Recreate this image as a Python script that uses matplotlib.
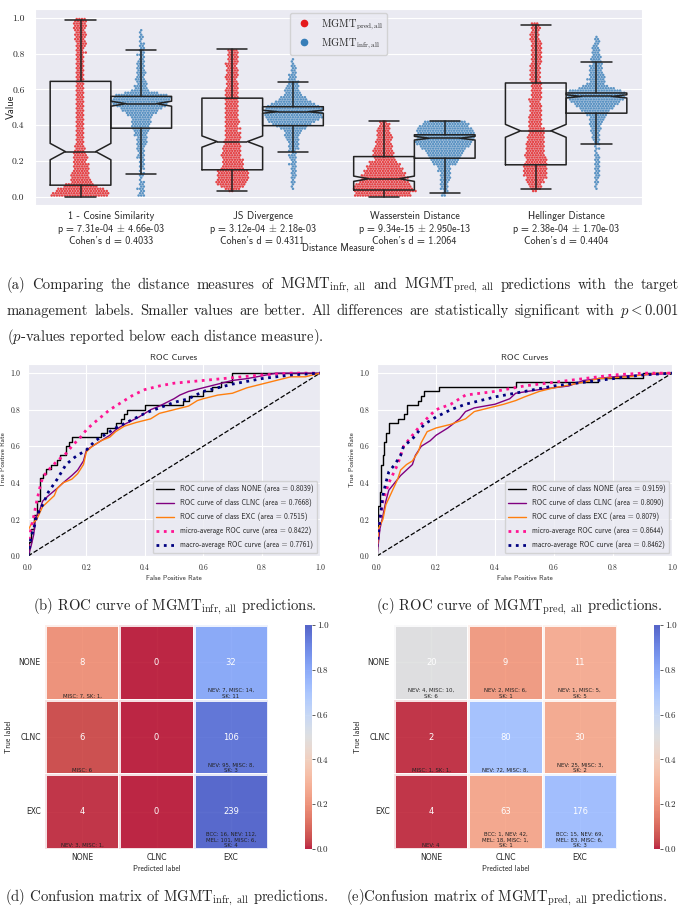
# Figure: distance measures (swarm + notched boxes), ROC curves and confusion matrices
import matplotlib
matplotlib.use("Agg")
import matplotlib.pyplot as plt
from matplotlib.lines import Line2D
import numpy as np
import pandas as pd
import seaborn as sns

W, H = 686, 910
SERIF = "cmr10"
SANS = "cmss10"

# ---------------- (a) distance measures ----------------
measures = ["1 - Cosine Similarity", "JS Divergence", "Wasserstein Distance", "Hellinger Distance"]
p_vals = ["7.31e-04", "3.12e-04", "9.34e-15", "2.38e-04"]
p_errs = ["4.66e-03", "2.18e-03", "2.950e-13", "1.70e-03"]
cohens_d = ["0.4033", "0.4311", "1.2064", "0.4404"]

# number of points per 0.0125-wide value bin (bin 0 = 0.0000-0.0125)
bin_width = 0.0125
pred_cos = [22, 22, 20, 18, 13, 11, 8, 8, 7, 7, 7, 6, 6, 6, 6, 5, 5, 6, 5, 5,
            4, 4, 4, 3, 3, 3, 3, 3, 3, 3, 3, 3, 3, 3, 3, 3, 3, 3, 3, 3,
            3, 3, 3, 3, 3, 3, 3, 3, 3, 3, 3, 3, 3, 3, 3, 3, 3, 3, 3, 3,
            3, 3, 3, 3, 4, 3, 3, 4, 4, 4, 4, 4, 5, 4, 4, 5, 5, 5, 5, 4]
infr_cos = [3, 2, 2, 3, 2, 2, 2, 1, 1, 2, 2, 1, 2, 2, 2, 2, 2, 3, 3, 2,
            3, 3, 3, 4, 4, 4, 4, 5, 5, 6, 7, 7, 7, 8, 7, 8, 10, 12, 14, 16,
            19, 21, 22, 22, 22, 20, 13, 7, 5, 5, 4, 4, 4, 3, 3, 4, 3, 3, 3, 3,
            3, 2, 2, 3, 2, 2, 2, 2, 2, 1, 1, 2, 1, 1, 1, 0, 0, 0, 0, 0]
pred_js = [0, 0, 2, 6, 9, 11, 12, 12, 12, 12, 12, 12, 9, 8, 8, 8, 8, 7, 8, 7,
           7, 7, 7, 6, 6, 6, 6, 6, 6, 5, 6, 5, 5, 6, 5, 5, 5, 5, 5, 5,
           5, 5, 5, 5, 5, 5, 5, 5, 5, 4, 5, 4, 4, 5, 5, 4, 5, 4, 4, 5,
           4, 4, 4, 4, 4, 4]
infr_js = [0, 0, 0, 1, 1, 1, 2, 1, 2, 2, 2, 2, 2, 2, 3, 2, 2, 3, 3, 2,
           3, 4, 4, 4, 4, 5, 5, 6, 6, 7, 10, 12, 15, 18, 20, 22, 22, 22, 22, 22,
           20, 17, 14, 11, 10, 7, 6, 6, 5, 5, 4, 4, 3, 3, 3, 2, 2, 2, 2, 1,
           1, 1]
pred_ws = [22, 21, 24, 23, 22, 21, 19, 17, 18, 17, 16, 15, 14, 13, 12, 11, 8, 8, 8, 8,
           8, 7, 7, 6, 6, 6, 6, 6, 5, 5, 5, 4, 4, 3]
infr_ws = [2, 1, 2, 3, 3, 3, 3, 4, 4, 4, 4, 5, 5, 5, 9, 10, 11, 12, 13, 14,
           15, 17, 19, 21, 22, 22, 22, 22, 22, 22, 21, 19, 18, 16]
pred_hel = [0, 0, 2, 4, 5, 5, 7, 7, 8, 9, 9, 9, 9, 9, 9, 8, 8, 8, 8, 7,
            7, 7, 7, 7, 7, 6, 7, 6, 6, 6, 6, 5, 5, 5, 5, 5, 5, 4, 5, 4,
            5, 4, 4, 5, 4, 4, 4, 4, 4, 4, 4, 4, 4, 4, 4, 4, 4, 4, 4, 4,
            4, 4, 4, 4, 4, 4, 4, 4, 4, 4, 4, 3, 4, 3, 3, 4, 3, 3]
infr_hel = [0, 0, 0, 1, 1, 1, 2, 1, 2, 2, 2, 2, 2, 2, 2, 2, 2, 2, 2, 1,
            1, 2, 1, 2, 2, 3, 3, 3, 3, 4, 4, 4, 5, 5, 6, 6, 8, 9, 11, 13,
            15, 17, 19, 21, 22, 22, 22, 20, 14, 10, 7, 6, 7, 6, 6, 5, 5, 5, 5, 4,
            4, 4, 4, 3, 3, 3, 3, 2, 2, 2, 2, 1]

# notched box statistics (pred = red, infr = blue)
pred_med = [0.252, 0.308, 0.100, 0.368]
pred_q1 = [0.064, 0.150, 0.037, 0.178]
pred_q3 = [0.645, 0.551, 0.224, 0.636]
pred_lo = [0.000, 0.032, 0.000, 0.040]
pred_hi = [0.990, 0.826, 0.424, 0.963]
infr_med = [0.520, 0.475, 0.327, 0.561]
infr_q1 = [0.383, 0.397, 0.215, 0.467]
infr_q3 = [0.561, 0.503, 0.346, 0.580]
infr_lo = [0.125, 0.250, 0.019, 0.295]
infr_hi = [0.822, 0.641, 0.424, 0.751]
n_samples = 395

# ---------------- (b), (c) ROC curves ----------------
classes = ["NONE", "CLNC", "EXC"]

infr_none_fpr = [0, 0.005, 0.01, 0.02, 0.03, 0.04, 0.05, 0.06, 0.08, 0.1, 0.11, 0.13, 0.14, 0.15,
                 0.25, 0.27, 0.3, 0.32, 0.33, 0.34, 0.4, 0.53, 0.55, 0.6, 0.63, 0.66, 0.7, 1.0]
infr_none_tpr = [0, 0.075, 0.15, 0.225, 0.3, 0.425, 0.45, 0.475, 0.5, 0.525, 0.55, 0.6, 0.625, 0.65,
                 0.675, 0.7, 0.725, 0.75, 0.775, 0.8, 0.825, 0.85, 0.875, 0.9, 0.925, 0.95, 1.0, 1.0]
infr_clnc_fpr = [0, 0.01, 0.02, 0.025, 0.03, 0.04, 0.05, 0.07, 0.1, 0.12, 0.15, 0.17, 0.19, 0.2, 0.22, 0.25,
                 0.28, 0.3, 0.33, 0.38, 0.42, 0.45, 0.5, 0.52, 0.55, 0.6, 0.65, 0.7, 0.75, 0.8, 0.85, 1.0]
infr_clnc_tpr = [0, 0.05, 0.12, 0.2, 0.22, 0.25, 0.3, 0.33, 0.37, 0.4, 0.44, 0.47, 0.52, 0.58, 0.6, 0.63,
                 0.66, 0.69, 0.72, 0.76, 0.8, 0.82, 0.86, 0.88, 0.9, 0.92, 0.94, 0.96, 0.97, 0.985, 1.0, 1.0]
infr_exc_fpr = [0, 0, 0.01, 0.03, 0.05, 0.07, 0.09, 0.1, 0.12, 0.15, 0.17, 0.19, 0.2, 0.22, 0.25, 0.28, 0.3,
                0.33, 0.37, 0.42, 0.45, 0.5, 0.55, 0.58, 0.6, 0.65, 0.7, 0.75, 0.8, 0.85, 0.9, 0.95, 1.0]
infr_exc_tpr = [0, 0.14, 0.17, 0.2, 0.27, 0.3, 0.33, 0.37, 0.4, 0.42, 0.45, 0.5, 0.57, 0.6, 0.63, 0.65, 0.68,
                0.71, 0.73, 0.75, 0.78, 0.8, 0.82, 0.85, 0.86, 0.88, 0.89, 0.92, 0.94, 0.96, 0.98, 0.98, 1.0]
infr_micro_fpr = [0, 0.01, 0.02, 0.03, 0.04, 0.05, 0.07, 0.1, 0.13, 0.15, 0.18, 0.2, 0.22, 0.25, 0.28,
                  0.32, 0.36, 0.4, 0.45, 0.5, 0.6, 0.7, 0.8, 0.9, 1.0]
infr_micro_tpr = [0.05, 0.15, 0.22, 0.3, 0.37, 0.43, 0.47, 0.52, 0.56, 0.6, 0.65, 0.69, 0.72, 0.76, 0.8,
                  0.84, 0.88, 0.91, 0.93, 0.945, 0.96, 0.975, 0.99, 1.0, 1.0]
infr_macro_fpr = [0, 0.01, 0.02, 0.03, 0.05, 0.07, 0.1, 0.13, 0.16, 0.2, 0.23, 0.27, 0.3, 0.35, 0.4,
                  0.45, 0.5, 0.55, 0.6, 0.7, 0.8, 0.9, 1.0]
infr_macro_tpr = [0, 0.1, 0.15, 0.22, 0.28, 0.35, 0.42, 0.5, 0.54, 0.58, 0.63, 0.67, 0.7, 0.74, 0.78,
                  0.81, 0.84, 0.86, 0.9, 0.94, 0.97, 0.99, 1.0]
infr_auc = [0.8039, 0.7668, 0.7515, 0.8422, 0.7761]

pred_none_fpr = [0, 0, 0.005, 0.01, 0.012, 0.02, 0.025, 0.03, 0.04, 0.07, 0.09, 0.1, 0.14, 0.15, 0.16,
                 0.21, 0.47, 0.75, 0.9, 1.0]
pred_none_tpr = [0, 0.15, 0.275, 0.35, 0.5, 0.55, 0.625, 0.675, 0.725, 0.75, 0.775, 0.825, 0.85, 0.875, 0.9,
                 0.925, 0.95, 0.975, 1.0, 1.0]
pred_clnc_fpr = [0, 0.01, 0.02, 0.03, 0.04, 0.06, 0.08, 0.1, 0.12, 0.13, 0.15, 0.18, 0.2, 0.24, 0.28, 0.3,
                 0.33, 0.4, 0.45, 0.47, 0.55, 0.65, 0.7, 0.8, 0.9, 1.0]
pred_clnc_tpr = [0, 0.15, 0.22, 0.3, 0.36, 0.4, 0.44, 0.47, 0.5, 0.55, 0.6, 0.63, 0.66, 0.7, 0.75, 0.79,
                 0.81, 0.83, 0.86, 0.89, 0.91, 0.93, 0.96, 0.98, 0.99, 1.0]
pred_exc_fpr = [0, 0.005, 0.02, 0.03, 0.05, 0.07, 0.08, 0.1, 0.12, 0.14, 0.15, 0.17, 0.2, 0.25, 0.3, 0.33,
                0.38, 0.43, 0.47, 0.5, 0.55, 0.6, 0.7, 0.75, 0.85, 0.95, 1.0]
pred_exc_tpr = [0, 0.15, 0.2, 0.28, 0.35, 0.42, 0.47, 0.5, 0.52, 0.57, 0.62, 0.68, 0.7, 0.72, 0.75, 0.79,
                0.81, 0.83, 0.85, 0.87, 0.9, 0.92, 0.95, 0.97, 0.98, 1.0, 1.0]
pred_micro_fpr = [0, 0.01, 0.02, 0.04, 0.07, 0.09, 0.12, 0.15, 0.18, 0.2, 0.25, 0.3, 0.4, 0.5, 0.6, 0.7,
                  0.8, 0.9, 1.0]
pred_micro_tpr = [0.05, 0.2, 0.3, 0.4, 0.5, 0.6, 0.66, 0.72, 0.77, 0.8, 0.83, 0.88, 0.9, 0.93, 0.95, 0.97,
                  0.99, 1.0, 1.0]
pred_macro_fpr = [0, 0.01, 0.02, 0.03, 0.04, 0.06, 0.08, 0.09, 0.12, 0.16, 0.2, 0.25, 0.3, 0.35, 0.4, 0.5,
                  0.6, 0.7, 0.8, 0.9, 1.0]
pred_macro_tpr = [0.05, 0.2, 0.33, 0.4, 0.46, 0.5, 0.55, 0.6, 0.64, 0.72, 0.76, 0.8, 0.83, 0.85, 0.87, 0.9,
                  0.93, 0.95, 0.97, 0.99, 1.0]
pred_auc = [0.9159, 0.8090, 0.8079, 0.8644, 0.8462]

# ---------------- (d), (e) confusion matrices ----------------
cm_infr = [[8, 0, 32], [6, 0, 106], [4, 0, 239]]
cm_pred = [[20, 9, 11], [2, 80, 30], [4, 63, 176]]
notes_infr = [["MISC: 7, SK: 1,", "", "NEV: 7, MISC: 14,\nSK: 11"],
              ["MISC: 6", "", "NEV: 95, MISC: 8,\nSK: 3"],
              ["NEV: 3, MISC: 1,", "", "BCC: 16, NEV: 112,\nMEL: 101, MISC: 6,\nSK: 4"]]
notes_pred = [["NEV: 4, MISC: 10,\nSK: 6", "NEV: 2, MISC: 6,\nSK: 1", "NEV: 1, MISC: 5,\nSK: 5"],
              ["MISC: 1, SK: 1,", "NEV: 72, MISC: 8,", "NEV: 25, MISC: 3,\nSK: 2"],
              ["NEV: 4", "BCC: 1, NEV: 42,\nMEL: 18, MISC: 1,\nSK: 1", "BCC: 15, NEV: 69,\nMEL: 83, MISC: 6,\nSK: 3"]]


sns.set_style("darkgrid")
plt.rcParams["mathtext.fontset"] = "cm"
plt.rcParams["axes.unicode_minus"] = False
plt.rcParams["font.family"] = SANS

fig = plt.figure(figsize=(W / 100, H / 100), dpi=100)
fig.patch.set_facecolor("white")


def rect(x0, y0, x1, y1):
    """pixel box (top-left origin) -> figure fraction rect"""
    return [x0 / W, 1 - y1 / H, (x1 - x0) / W, (y1 - y0) / H]


def ftext(x, y, s, **kw):
    return fig.text(x / W, 1 - y / H, s, **kw)


# ---- top panel
red, blue = "#e41a1c", "#377eb8"
centers = np.arange(80) * bin_width + bin_width / 2
rows = []
for m, pc, ic in zip(measures, [pred_cos, pred_js, pred_ws, pred_hel],
                     [infr_cos, infr_js, infr_ws, infr_hel]):
    for model, cnt in (("pred", pc), ("infr", ic)):
        for v in np.repeat(centers[:len(cnt)], cnt):
            rows.append((m, model, v))
df = pd.DataFrame(rows, columns=["measure", "model", "value"])

ax = fig.add_axes(rect(35, 9, 642, 205))
ax.set_xlim(-0.5, 3.5)
ax.set_ylim(-0.047, 1.05)
sns.swarmplot(data=df, x="measure", y="value", hue="model", order=measures,
              hue_order=["pred", "infr"], dodge=True, palette=[red, blue],
              size=1.8, alpha=0.8, ax=ax, legend=False, warn_thresh=1)


def box_stats(med, q1, q3, lo, hi):
    stats = []
    for a, b, c, d, e in zip(med, q1, q3, lo, hi):
        ci = 1.57 * (c - b) / np.sqrt(n_samples)
        stats.append(dict(med=a, q1=b, q3=c, whislo=d, whishi=e, cilo=a - ci, cihi=a + ci, fliers=[]))
    return stats


line = dict(color="#222222", lw=1.1)
for stats, off in ((box_stats(pred_med, pred_q1, pred_q3, pred_lo, pred_hi), -0.2),
                   (box_stats(infr_med, infr_q1, infr_q3, infr_lo, infr_hi), 0.2)):
    ax.bxp(stats, positions=np.arange(4) + off, widths=0.4, shownotches=True, showfliers=False,
           capwidths=0.2, boxprops=line, whiskerprops=line, capprops=line, medianprops=line,
           manage_ticks=False, zorder=4)

ax.set_xlim(-0.5, 3.5)
ax.set_ylim(-0.047, 1.05)
xlabels = [f"{m}\np = {p} $\\pm$ {e}\nCohen's d = {d}"
           for m, p, e, d in zip(measures, p_vals, p_errs, cohens_d)]
ax.set_xticks(range(4))
ax.set_xticklabels(xlabels, fontfamily=SANS, fontsize=7.3, linespacing=1.05)
ax.set_yticks(np.arange(0, 1.01, 0.2))
ax.set_yticklabels([f"{t:.1f}" for t in np.arange(0, 1.01, 0.2)], fontfamily=SERIF, fontsize=7)
ax.tick_params(axis="x", pad=1)
ax.tick_params(axis="y", pad=4)
ax.xaxis.grid(False)
ax.set_xlabel("")
ax.set_ylabel("")
ftext(11, 107, "Value", rotation=90, ha="center", va="center", fontfamily=SANS, fontsize=7.5)
ftext(338, 248, "Distance Measure", ha="center", va="center", fontfamily=SANS, fontsize=7)
handles = [Line2D([], [], marker="o", ls="", color=red, ms=4.5),
           Line2D([], [], marker="o", ls="", color=blue, ms=4.5)]
ax.legend(handles, [r"$\mathrm{MGMT}_{\mathrm{pred,all}}$", r"$\mathrm{MGMT}_{\mathrm{infr,all}}$"],
          loc="upper center", fontsize=7.5, handletextpad=0.6, borderaxespad=0.4)


# ---- ROC panels
def draw_roc(ax, curves, aucs):
    ax.plot([0, 1], [0, 1], "k--", lw=0.9)
    styles = [("black", "-", 1.0), ("purple", "-", 1.0), ("#ff7f0e", "-", 1.0),
              ("deeppink", ":", 2.0), ("navy", ":", 2.0)]
    names = [f"ROC curve of class {c}" for c in classes] + ["micro-average ROC curve", "macro-average ROC curve"]
    for k, ((fpr, tpr), (col, ls, lw), name, a) in enumerate(zip(curves, styles, names, aucs)):
        ax.plot(fpr, tpr, color=col, ls=ls, lw=lw, label=f"{name} (area = {a:.4f})",
                drawstyle="steps-post" if k == 0 else "default")
    ax.set_xlim(0, 1)
    ax.set_ylim(0, 1.05)
    ticks = np.arange(0, 1.01, 0.2)
    ax.set_xticks(ticks)
    ax.set_yticks(ticks)
    ax.set_xticklabels([f"{t:.1f}" for t in ticks], fontfamily=SERIF, fontsize=5.6)
    ax.set_yticklabels([f"{t:.1f}" for t in ticks], fontfamily=SERIF, fontsize=5.6)
    ax.tick_params(pad=2)
    ax.set_title("ROC Curves", fontfamily=SANS, fontsize=6.6, pad=3)
    ax.set_xlabel("False Positive Rate", fontfamily=SANS, fontsize=5, labelpad=2)
    ax.set_ylabel("True Positive Rate", fontfamily=SANS, fontsize=5, labelpad=3)
    ax.legend(loc="lower right", prop={"family": SANS, "size": 5.3}, handlelength=2.4,
              borderaxespad=0.4, labelspacing=0.75, borderpad=0.5)


ax_b = fig.add_axes(rect(28, 364, 320, 556))
draw_roc(ax_b, [(infr_none_fpr, infr_none_tpr), (infr_clnc_fpr, infr_clnc_tpr),
                (infr_exc_fpr, infr_exc_tpr), (infr_micro_fpr, infr_micro_tpr),
                (infr_macro_fpr, infr_macro_tpr)], infr_auc)
ax_c = fig.add_axes(rect(377, 364, 672, 556))
draw_roc(ax_c, [(pred_none_fpr, pred_none_tpr), (pred_clnc_fpr, pred_clnc_tpr),
                (pred_exc_fpr, pred_exc_tpr), (pred_micro_fpr, pred_micro_tpr),
                (pred_macro_fpr, pred_macro_tpr)], pred_auc)


# ---- confusion matrices
def draw_cm(ax, cax, counts, notes):
    counts = np.array(counts)
    frac = counts / counts.sum(axis=1, keepdims=True)
    sns.heatmap(frac, cmap="coolwarm_r", vmin=0, vmax=1, linewidths=1, linecolor="white",
                ax=ax, cbar_ax=cax, xticklabels=classes, yticklabels=classes, alpha=0.85)
    for i in range(3):
        for j in range(3):
            ax.text(j + 0.5, i + 0.5, str(counts[i, j]), ha="center", va="center",
                    color="white", fontsize=6, fontfamily="DejaVu Sans")
            ax.text(j + 0.5, i + 0.985, notes[i][j], ha="center", va="bottom", color="#222222",
                    fontsize=3.9, fontfamily="DejaVu Sans", linespacing=1.1)
    ax.set_xticklabels(classes, fontfamily="DejaVu Sans", fontsize=5.5)
    ax.set_yticklabels(classes, fontfamily="DejaVu Sans", fontsize=5.5, rotation=0)
    ax.tick_params(length=0, pad=3)
    ax.set_xlabel("Predicted label", fontfamily=SANS, fontsize=5.5, labelpad=2)
    ax.set_ylabel("True label", fontfamily=SANS, fontsize=5.5, labelpad=4)
    ticks = np.arange(0, 1.01, 0.2)
    cax.set_yticks(ticks)
    cax.set_yticklabels([f"{t:.1f}" for t in ticks], fontfamily=SERIF, fontsize=6.5)
    cax.tick_params(length=2.5, width=0.6, color="#444444", pad=1)


ax_d = fig.add_axes(rect(45, 625, 268, 849))
cax_d = fig.add_axes(rect(305, 625, 312, 849))
draw_cm(ax_d, cax_d, cm_infr, notes_infr)
ax_e = fig.add_axes(rect(394, 625, 617, 849))
cax_e = fig.add_axes(rect(654, 625, 660, 849))
draw_cm(ax_e, cax_e, cm_pred, notes_pred)

# ---- captions
cap = dict(fontfamily=SERIF, fontsize=10.6, va="center")
renderer = fig.canvas.get_renderer()


def justified(words, x0, x1, y):
    """place words so the line fills x0..x1 like a justified LaTeX caption line"""
    texts = [ftext(x0, y, w, ha="left", **cap) for w in words]
    widths = [t.get_window_extent(renderer).width for t in texts]
    gap = (x1 - x0 - sum(widths)) / (len(words) - 1)
    x = x0
    for t, w in zip(texts, widths):
        t.set_x(x / W)
        x += w + gap


justified(["(a)", "Comparing", "the", "distance", "measures", "of", r"MGMT$_{\mathrm{infr,\ all}}$", "and",
           r"MGMT$_{\mathrm{pred,\ all}}$", "predictions", "with", "the", "target"], 7, 679, 285)
justified(["management", "labels.", "Smaller", "values", "are", "better.", "All", "differences", "are",
           "statistically", "significant", "with", r"$p < 0.001$"], 7, 679, 311)
ftext(7, 337, r"($p$-values reported below each distance measure).", ha="left", **cap)
ftext(175, 607, r"(b) ROC curve of MGMT$_{\mathrm{infr,\ all}}$ predictions.", ha="center", **cap)
ftext(519, 607, r"(c) ROC curve of MGMT$_{\mathrm{pred,\ all}}$ predictions.", ha="center", **cap)
ftext(5, 898, r"(d) Confusion matrix of MGMT$_{\mathrm{infr,\ all}}$ predictions.", ha="left", **cap)
ftext(346, 898, r"(e)Confusion matrix of MGMT$_{\mathrm{pred,\ all}}$ predictions.", ha="left", **cap)

fig.savefig("out.png", dpi=100)
